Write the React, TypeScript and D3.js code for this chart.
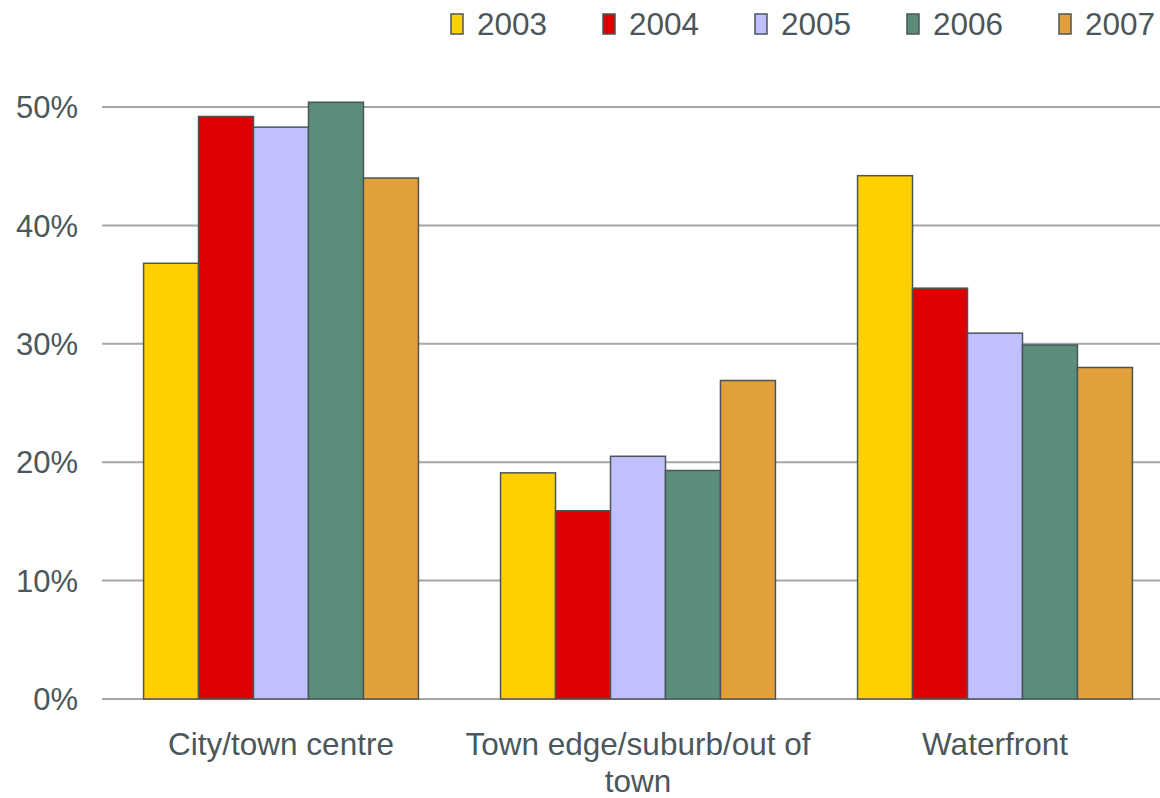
import React, { useEffect, useRef } from "react";
import * as d3 from "d3";

const categories = ["City/town centre", "Town edge/suburb/out of town", "Waterfront"];
const years = ["2003", "2004", "2005", "2006", "2007"];
// percent values per year, in category order
const v2003 = [36.8, 19.1, 44.2];
const v2004 = [49.2, 15.9, 34.7];
const v2005 = [48.3, 20.5, 30.9];
const v2006 = [50.4, 19.3, 29.9];
const v2007 = [44.0, 26.9, 28.0];
const yTicks = [0, 10, 20, 30, 40, 50];
const colors = ["#ffd000", "#dd0000", "#c0c0ff", "#5a8e7a", "#e2a03a"];

const series = [v2003, v2004, v2005, v2006, v2007];

const App = () => {
  const ref = useRef<SVGSVGElement>(null);
  const width = 1160,
    height = 798;

  useEffect(() => {
    const svg = d3.select(ref.current);
    svg.selectAll("*").remove();
    const font = "'Liberation Sans', Arial, sans-serif";
    const textColor = "#4b575b";

    const x0 = d3
      .scaleBand()
      .domain(categories)
      .range([102.5, 1173.5])
      .paddingInner(0.23)
      .paddingOuter(0.115);
    const x1 = d3.scaleBand().domain(years).range([0, x0.bandwidth()]);
    const y = d3.scaleLinear().domain([0, 50]).range([699, 107]);

    // gridlines
    svg
      .append("g")
      .selectAll("line")
      .data(yTicks)
      .enter()
      .append("line")
      .attr("x1", 102)
      .attr("x2", width)
      .attr("y1", (d) => y(d))
      .attr("y2", (d) => y(d))
      .style("stroke", "#a6a6a6")
      .style("stroke-width", 2);

    // y labels
    svg
      .append("g")
      .selectAll("text")
      .data(yTicks)
      .enter()
      .append("text")
      .attr("x", 78)
      .attr("y", (d) => y(d))
      .attr("dy", "0.36em")
      .attr("text-anchor", "end")
      .style("font-family", font)
      .style("font-size", "31px")
      .style("fill", textColor)
      .text((d) => d + "%");

    // bars
    const groups = svg
      .selectAll("g.cat")
      .data(categories)
      .enter()
      .append("g")
      .attr("class", "cat")
      .attr("transform", (d) => `translate(${x0(d)},0)`);

    groups
      .selectAll("rect")
      .data((d, ci) => years.map((yr, si) => ({ yr, si, v: series[si][ci] })))
      .enter()
      .append("rect")
      .attr("x", (d) => x1(d.yr)!)
      .attr("width", x1.bandwidth())
      .attr("y", (d) => y(d.v))
      .attr("height", (d) => y(0) - y(d.v))
      .style("fill", (d) => colors[d.si])
      .style("stroke", "#4a5559")
      .style("stroke-width", 1.5);

    // category labels, wrapped
    const labels = svg
      .append("g")
      .selectAll("text")
      .data(categories)
      .enter()
      .append("text")
      .attr("x", (d) => x0(d)! + x0.bandwidth() / 2)
      .attr("y", 755)
      .attr("text-anchor", "middle")
      .style("font-family", font)
      .style("font-size", "31.5px")
      .style("fill", textColor);

    labels.each(function (d) {
      const el = d3.select(this);
      const words = d.split(" ");
      const maxW = 360;
      let line: string[] = [];
      let tspan = el.append("tspan").attr("x", el.attr("x")).attr("dy", 0);
      words.forEach((w) => {
        line.push(w);
        tspan.text(line.join(" "));
        if ((tspan.node() as SVGTSpanElement).getComputedTextLength() > maxW && line.length > 1) {
          line.pop();
          tspan.text(line.join(" "));
          line = [w];
          tspan = el
            .append("tspan")
            .attr("x", el.attr("x"))
            .attr("dy", "1.16em")
            .text(w);
        }
      });
    });

    // legend
    const legend = svg
      .append("g")
      .selectAll("g")
      .data(years)
      .enter()
      .append("g")
      .attr("transform", (d, i) => `translate(${451 + i * 152},0)`);
    legend
      .append("rect")
      .attr("x", 0)
      .attr("y", 14)
      .attr("width", 12)
      .attr("height", 20)
      .style("fill", (d, i) => colors[i])
      .style("stroke", "#4a5559")
      .style("stroke-width", 1.5);
    legend
      .append("text")
      .attr("x", 26)
      .attr("y", 24)
      .attr("dy", "0.36em")
      .style("font-family", font)
      .style("font-size", "31.5px")
      .style("fill", textColor)
      .text((d) => d);
  }, []);

  return (
    <svg
      ref={ref}
      width={width}
      height={height}
      style={{ position: "absolute", left: 0, top: 0, background: "#fff" }}
    ></svg>
  );
};

export default App;
